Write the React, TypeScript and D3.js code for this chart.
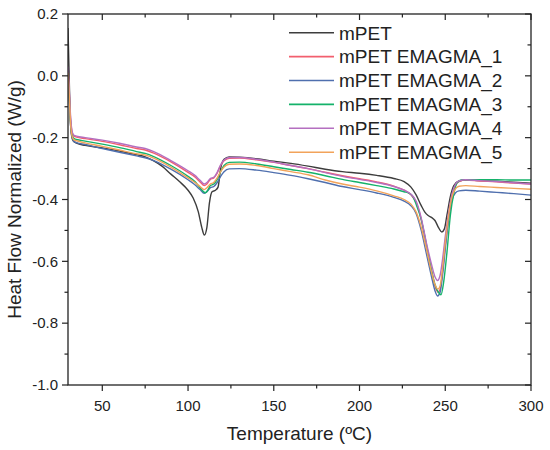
import React from 'react'
import * as d3 from 'd3'

// DSC curves, [temperature °C, heat flow W/g]
const mPET = [
  [30, 0.155], [30.6, 0.02], [31.2, -0.12], [32, -0.19], [33, -0.21], [35, -0.218],
  [40, -0.225], [50, -0.233], [60, -0.243], [70, -0.255], [75, -0.262], [80, -0.275],
  [85, -0.293], [90, -0.318], [95, -0.342], [100, -0.37], [103, -0.395], [106, -0.44],
  [108, -0.49], [109.5, -0.515], [111, -0.49], [112.5, -0.41], [114, -0.375], [116, -0.37],
  [117.5, -0.36], [119, -0.3], [121, -0.27], [124, -0.262], [130, -0.263], [140, -0.268],
  [150, -0.276], [160, -0.283], [170, -0.292], [180, -0.302], [190, -0.31], [200, -0.315],
  [210, -0.322], [220, -0.332], [226, -0.342], [230, -0.36], [233, -0.385], [236, -0.42],
  [238, -0.44], [240, -0.452], [242, -0.458], [244, -0.468], [246, -0.49], [248, -0.505],
  [249.5, -0.495], [251, -0.45], [253, -0.39], [255, -0.355], [258, -0.34], [262, -0.337],
  [270, -0.339], [280, -0.341], [290, -0.344], [300, -0.347],
]

const emagma1 = [
  [30, 0.02], [30.7, -0.05], [31.5, -0.14], [32.5, -0.185], [33.5, -0.195], [35, -0.198],
  [40, -0.203], [50, -0.212], [60, -0.223], [70, -0.235], [75, -0.24], [80, -0.25],
  [90, -0.278], [100, -0.312], [104, -0.327], [107, -0.343], [109.5, -0.355], [111, -0.35],
  [113, -0.335], [115, -0.33], [117, -0.315], [119, -0.29], [121, -0.275], [124, -0.267],
  [130, -0.266], [140, -0.272], [150, -0.28], [160, -0.29], [170, -0.3], [180, -0.312],
  [190, -0.323], [200, -0.333], [210, -0.343], [220, -0.357], [226, -0.37], [230, -0.385],
  [233, -0.41], [236, -0.465], [239, -0.55], [242, -0.63], [244, -0.68], [245.8, -0.7],
  [247, -0.69], [248.5, -0.63], [250, -0.55], [252, -0.46], [254, -0.39], [256, -0.355],
  [258, -0.342], [262, -0.337], [270, -0.34], [280, -0.343], [290, -0.347], [300, -0.35],
]

const emagma2 = [
  [30, -0.01], [30.7, -0.07], [31.5, -0.16], [32.5, -0.2], [33.5, -0.212], [35, -0.216],
  [40, -0.222], [50, -0.235], [60, -0.247], [70, -0.259], [75, -0.265], [80, -0.274],
  [90, -0.302], [100, -0.336], [104, -0.352], [107, -0.368], [109.5, -0.38], [111, -0.375],
  [113, -0.362], [115, -0.358], [117, -0.345], [119, -0.325], [121, -0.31], [124, -0.301],
  [130, -0.3], [140, -0.305], [150, -0.313], [160, -0.322], [170, -0.333], [180, -0.345],
  [190, -0.358], [200, -0.368], [210, -0.379], [220, -0.393], [226, -0.405], [230, -0.42],
  [233, -0.445], [236, -0.5], [239, -0.575], [242, -0.65], [244, -0.695], [245.5, -0.712],
  [247, -0.7], [248.5, -0.64], [250, -0.56], [252, -0.46], [254, -0.4], [256, -0.378],
  [258, -0.372], [262, -0.37], [270, -0.373], [280, -0.377], [290, -0.381], [300, -0.386],
]

const emagma3 = [
  [30, 0.0], [30.7, -0.06], [31.5, -0.15], [32.5, -0.193], [33.5, -0.203], [35, -0.206],
  [40, -0.211], [50, -0.221], [60, -0.232], [70, -0.245], [75, -0.251], [80, -0.261],
  [90, -0.29], [100, -0.325], [104, -0.342], [107, -0.362], [110, -0.378], [111.5, -0.37],
  [113, -0.355], [115, -0.35], [117, -0.335], [119, -0.31], [121, -0.29], [124, -0.28],
  [130, -0.279], [140, -0.285], [150, -0.294], [160, -0.303], [170, -0.312], [180, -0.323],
  [190, -0.335], [200, -0.345], [210, -0.355], [220, -0.366], [226, -0.375], [229, -0.38],
  [231, -0.39], [233, -0.415], [236, -0.465], [239, -0.545], [242, -0.63], [244, -0.675],
  [246, -0.7], [247.5, -0.708], [249, -0.67], [251, -0.57], [253, -0.45], [255, -0.38],
  [257, -0.345], [260, -0.336], [270, -0.336], [280, -0.336], [290, -0.337], [300, -0.337],
]

const emagma4 = [
  [30, 0.03], [30.7, -0.04], [31.5, -0.13], [32.5, -0.182], [33.5, -0.192], [35, -0.195],
  [40, -0.2], [50, -0.208], [60, -0.218], [70, -0.23], [75, -0.235], [80, -0.245],
  [90, -0.274], [100, -0.307], [104, -0.322], [107, -0.338], [109.5, -0.35], [111, -0.345],
  [113, -0.332], [115, -0.328], [117, -0.312], [119, -0.288], [121, -0.272], [124, -0.264],
  [130, -0.264], [140, -0.27], [150, -0.279], [160, -0.29], [170, -0.3], [180, -0.313],
  [190, -0.325], [200, -0.335], [210, -0.345], [220, -0.358], [226, -0.37], [230, -0.383],
  [233, -0.405], [236, -0.46], [239, -0.54], [242, -0.61], [244, -0.65], [245.5, -0.662],
  [247, -0.645], [248.5, -0.59], [250, -0.52], [252, -0.44], [254, -0.38], [256, -0.35],
  [258, -0.34], [262, -0.336], [270, -0.339], [280, -0.342], [290, -0.346], [300, -0.35],
]

const emagma5 = [
  [30, 0.01], [30.7, -0.06], [31.5, -0.155], [32.5, -0.197], [33.5, -0.207], [35, -0.21],
  [40, -0.217], [50, -0.228], [60, -0.24], [70, -0.252], [75, -0.256], [80, -0.266],
  [90, -0.295], [100, -0.33], [104, -0.345], [107, -0.358], [109.5, -0.368], [111, -0.362],
  [113, -0.35], [115, -0.345], [117, -0.33], [119, -0.31], [121, -0.295], [124, -0.286],
  [130, -0.285], [140, -0.29], [150, -0.3], [160, -0.31], [170, -0.32], [180, -0.337],
  [190, -0.35], [200, -0.36], [210, -0.372], [220, -0.388], [226, -0.4], [230, -0.415],
  [233, -0.44], [236, -0.49], [239, -0.56], [242, -0.635], [244, -0.675], [245.7, -0.69],
  [247, -0.68], [248.5, -0.62], [250, -0.54], [252, -0.45], [254, -0.39], [256, -0.365],
  [258, -0.357], [262, -0.355], [270, -0.358], [280, -0.361], [290, -0.364], [300, -0.367],
]

const seriesNames = ['mPET', 'mPET EMAGMA_1', 'mPET EMAGMA_2', 'mPET EMAGMA_3', 'mPET EMAGMA_4', 'mPET EMAGMA_5']
const seriesData = [mPET, emagma1, emagma2, emagma3, emagma4, emagma5]
const seriesColors = ['#3d3d3d', '#f25f6e', '#4f6fae', '#14b26a', '#b46fc0', '#f2a35a']

const xTicks = [50, 100, 150, 200, 250, 300]
const xMinor = [75, 125, 175, 225, 275]
const yTicks = [0.2, 0.0, -0.2, -0.4, -0.6, -0.8, -1.0]
const yMinor = [0.1, -0.1, -0.3, -0.5, -0.7, -0.9]

const W = 550
const H = 450
const margin = { top: 14, right: 19, bottom: 65, left: 68 }
const font = '"Liberation Sans", Arial, sans-serif'

// Origin-style labels use a plain hyphen, not the unicode minus
const fmtY = (v) => (Math.abs(v) < 1e-9 ? '0.0' : v.toFixed(1))

export default function App() {
  const plotW = W - margin.left - margin.right
  const plotH = H - margin.top - margin.bottom

  const x = d3.scaleLinear().domain([30, 300]).range([0, plotW])
  const y = d3.scaleLinear().domain([-1.0, 0.2]).range([plotH, 0])

  const path = d3
    .line<number[]>()
    .x((d) => x(d[0]))
    .y((d) => y(d[1]))
    .curve(d3.curveMonotoneX)

  const axisColor = '#222'

  return (
    <svg width={W} height={H} style={{ position: 'absolute', left: 0, top: 0, background: '#fff' }}>
      <defs>
        <clipPath id="plot-clip">
          <rect x={0} y={0} width={plotW} height={plotH} />
        </clipPath>
      </defs>
      <g transform={`translate(${margin.left},${margin.top})`}>
        {/* curves */}
        <g clipPath="url(#plot-clip)">
          {seriesData.map((s, i) => (
            <path key={i} d={path(s) || ''} fill="none" stroke={seriesColors[i]} strokeWidth={1.4} />
          ))}
        </g>

        {/* frame */}
        <rect x={0} y={0} width={plotW} height={plotH} fill="none" stroke={axisColor} strokeWidth={1.3} />

        {/* bottom + top ticks */}
        {xTicks.map((t) => (
          <g key={'xt' + t}>
            <line x1={x(t)} x2={x(t)} y1={plotH} y2={plotH + 6} stroke={axisColor} strokeWidth={1.2} />
            <line x1={x(t)} x2={x(t)} y1={0} y2={6} stroke={axisColor} strokeWidth={1.2} />
            <text x={x(t)} y={plotH + 26} textAnchor="middle" fontFamily={font} fontSize={15} fill="#222">
              {t}
            </text>
          </g>
        ))}
        {xMinor.map((t) => (
          <g key={'xm' + t}>
            <line x1={x(t)} x2={x(t)} y1={plotH} y2={plotH + 3.5} stroke={axisColor} strokeWidth={1.2} />
            <line x1={x(t)} x2={x(t)} y1={0} y2={3.5} stroke={axisColor} strokeWidth={1.2} />
          </g>
        ))}

        {/* left + right ticks */}
        {yTicks.map((t) => (
          <g key={'yt' + t}>
            <line x1={-6} x2={0} y1={y(t)} y2={y(t)} stroke={axisColor} strokeWidth={1.2} />
            <line x1={plotW - 6} x2={plotW} y1={y(t)} y2={y(t)} stroke={axisColor} strokeWidth={1.2} />
            <text x={-10} y={y(t) + 5.3} textAnchor="end" fontFamily={font} fontSize={15} fill="#222">
              {fmtY(t)}
            </text>
          </g>
        ))}
        {yMinor.map((t) => (
          <g key={'ym' + t}>
            <line x1={-3.5} x2={0} y1={y(t)} y2={y(t)} stroke={axisColor} strokeWidth={1.2} />
            <line x1={plotW - 3.5} x2={plotW} y1={y(t)} y2={y(t)} stroke={axisColor} strokeWidth={1.2} />
          </g>
        ))}

        {/* axis titles */}
        <text x={plotW / 2} y={plotH + 55} textAnchor="middle" fontFamily={font} fontSize={19} fill="#222">
          Temperature (ºC)
        </text>
        <text
          transform={`translate(${21 - margin.left},${plotH / 2}) rotate(-90)`}
          textAnchor="middle"
          fontFamily={font}
          fontSize={19}
          fill="#222"
        >
          Heat Flow Normalized (W/g)
        </text>

        {/* legend */}
        {seriesNames.map((name, i) => (
          <g key={name} transform={`translate(${289 - margin.left},${32.7 - margin.top + i * 23.9})`}>
            <line x1={0} x2={45} y1={0} y2={0} stroke={seriesColors[i]} strokeWidth={1.6} />
            <text x={50} y={6.8} fontFamily={font} fontSize={19} fill="#222">
              {name}
            </text>
          </g>
        ))}
      </g>
    </svg>
  )
}
